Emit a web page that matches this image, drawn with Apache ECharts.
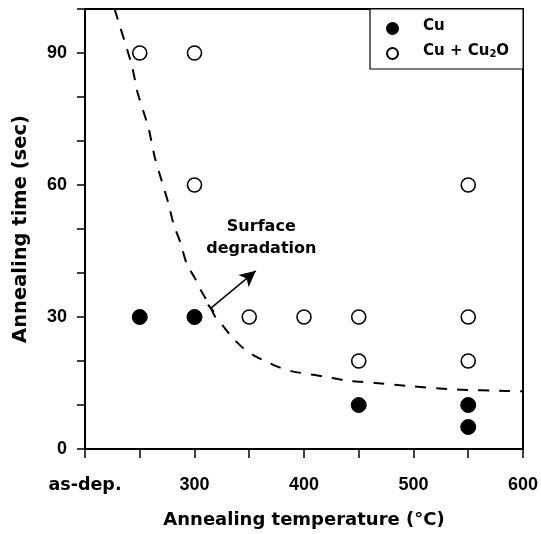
<!DOCTYPE html>
<html><head><meta charset="utf-8">
<script src="https://cdn.jsdelivr.net/npm/echarts@6/dist/echarts.min.js"></script>
<style>html,body{margin:0;padding:0;background:#fff}#c{width:541px;height:534px}</style>
</head><body><div id="c"></div>
<script>
// ---- data ----
const seriesNames = ['Cu', 'Cu + Cu2O'];
const cuPoints = [[250,30],[300,30],[450,10],[550,10],[550,5]];
const cuOxPoints = [[250,90],[300,90],[300,60],[350,30],[400,30],[450,30],[450,20],[550,60],[550,30],[550,20]];
const boundaryCurve = [[227,100],[232,96],[237,92],[243,87],[248,81],[253,77],[258,73],[264,66],[270,61],[276,56],[281,51],[287,47],[293,42],[300,39],[306,36],[313,33],[319,30],[326,28],[334,25.5],[344,23],[354,21.3],[366,19.8],[377,18.6],[388,17.7],[400,17.2],[410,16.8],[420,16.4],[431,15.9],[440,15.5],[452,15.3],[465,15],[496,14.3],[540,13.5],[585,13.2],[600,13.1]];
const arrowFrom = [315, 32];
const arrowTo = [356, 40.5];
const annotationText = 'Surface\ndegradation';
const annotationPos = [361, 48];
const xTickValues = [200, 300, 400, 500, 600];
const xTickLabels = ['as-dep.', '300', '400', '500', '600'];
const yTickValues = [0, 30, 60, 90];
const yTickLabels = ['0', '30', '60', '90'];
const xName = 'Annealing temperature (°C)';
const yName = 'Annealing time (sec)';

const NUMFONT = '"Liberation Sans", Arial, sans-serif';
const WORDFONT = '"DejaVu Sans", sans-serif';
const chart = echarts.init(document.getElementById('c'), null, {renderer: 'canvas'});

const option = {
  backgroundColor: '#fff',
  animation: false,
  grid: {left: 85, right: 17, top: 9, bottom: 85, show: true, borderColor: '#000', borderWidth: 2, containLabel: false},
  legend: {
    data: seriesNames,
    orient: 'vertical',
    left: 370, top: 9,
    padding: [10, 14, 9, 16],
    itemWidth: 11, itemHeight: 11, itemGap: 9,
    backgroundColor: '#fff',
    borderColor: '#000', borderWidth: 1.2, borderRadius: 0,
    formatter: function (name) {
      if (name === 'Cu + Cu2O') return '{t|Cu + Cu}{s|2}{t|O}';
      return '{t|' + name + '}';
    },
    textStyle: {
      padding: [0, 0, 0, 20],
      rich: {
        t: {fontFamily: WORDFONT, fontWeight: 'bold', fontSize: 15, color: '#000', lineHeight: 11, verticalAlign: 'bottom'},
        s: {fontFamily: WORDFONT, fontWeight: 'bold', fontSize: 10, color: '#000', lineHeight: 2, verticalAlign: 'bottom'}
      }
    }
  },
  xAxis: {
    type: 'value', min: 200, max: 600, interval: 50,
    name: xName, nameLocation: 'middle', nameGap: 62,
    nameTextStyle: {fontFamily: WORDFONT, fontWeight: 'bold', fontSize: 18, color: '#000'},
    axisLine: {show: true, onZero: false, lineStyle: {color: '#000', width: 2}},
    axisTick: {show: true, inside: false, length: 9, lineStyle: {color: '#000', width: 1.5}},
    splitLine: {show: false},
    axisLabel: {
      margin: 27, color: '#000', fontFamily: NUMFONT, fontWeight: 'bold', fontSize: 18,
      formatter: function (v) {
        const i = xTickValues.indexOf(v);
        if (i < 0) return '';
        return i === 0 ? '{w|' + xTickLabels[i] + '}' : xTickLabels[i];
      },
      rich: {w: {fontFamily: WORDFONT, fontWeight: 'bold', fontSize: 17.5, color: '#000'}}
    }
  },
  yAxis: {
    type: 'value', min: 0, max: 100, interval: 10,
    name: yName, nameLocation: 'middle', nameGap: 54, nameRotate: 90,
    nameTextStyle: {fontFamily: WORDFONT, fontWeight: 'bold', fontSize: 19.5, color: '#000'},
    axisLine: {show: true, onZero: false, lineStyle: {color: '#000', width: 2}},
    axisTick: {show: true, inside: false, length: 8, lineStyle: {color: '#000', width: 1.5}},
    splitLine: {show: false},
    axisLabel: {
      margin: 18, color: '#000', fontFamily: NUMFONT, fontWeight: 'bold', fontSize: 18,
      formatter: function (v) { const i = yTickValues.indexOf(v); return i >= 0 ? yTickLabels[i] : ''; }
    }
  },
  series: [
    {
      name: 'boundary', type: 'line', data: boundaryCurve, symbol: 'none', smooth: 0.2,
      lineStyle: {color: '#000', width: 2, type: [11, 10]}, silent: true, z: 1,
      markLine: {
        silent: true, animation: false,
        lineStyle: {color: '#000', width: 1.5, type: 'solid'},
        label: {show: false},
        data: [[
          {coord: arrowFrom, symbol: 'rect', symbolSize: [9, 2]},
          {coord: arrowTo, symbol: 'arrow', symbolSize: [12, 16]}
        ]]
      }
    },
    {
      name: seriesNames[0], type: 'scatter', data: cuPoints, symbol: 'circle', symbolSize: 15,
      itemStyle: {color: '#000', borderColor: '#000', borderWidth: 1, opacity: 1}, z: 3
    },
    {
      name: seriesNames[1], type: 'scatter', data: cuOxPoints, symbol: 'circle', symbolSize: 14,
      itemStyle: {color: '#fff', borderColor: '#000', borderWidth: 1.6, opacity: 1}, z: 3
    }
  ]
};
chart.setOption(option);

const p = chart.convertToPixel({gridIndex: 0}, annotationPos);
chart.setOption({
  graphic: [{
    type: 'text', x: p[0], y: p[1], z: 10,
    style: {text: annotationText, fontFamily: WORDFONT, fontWeight: 'bold', fontSize: 16, fill: '#000',
      align: 'center', verticalAlign: 'middle', lineHeight: 22}
  }]
});
</script></body></html>
